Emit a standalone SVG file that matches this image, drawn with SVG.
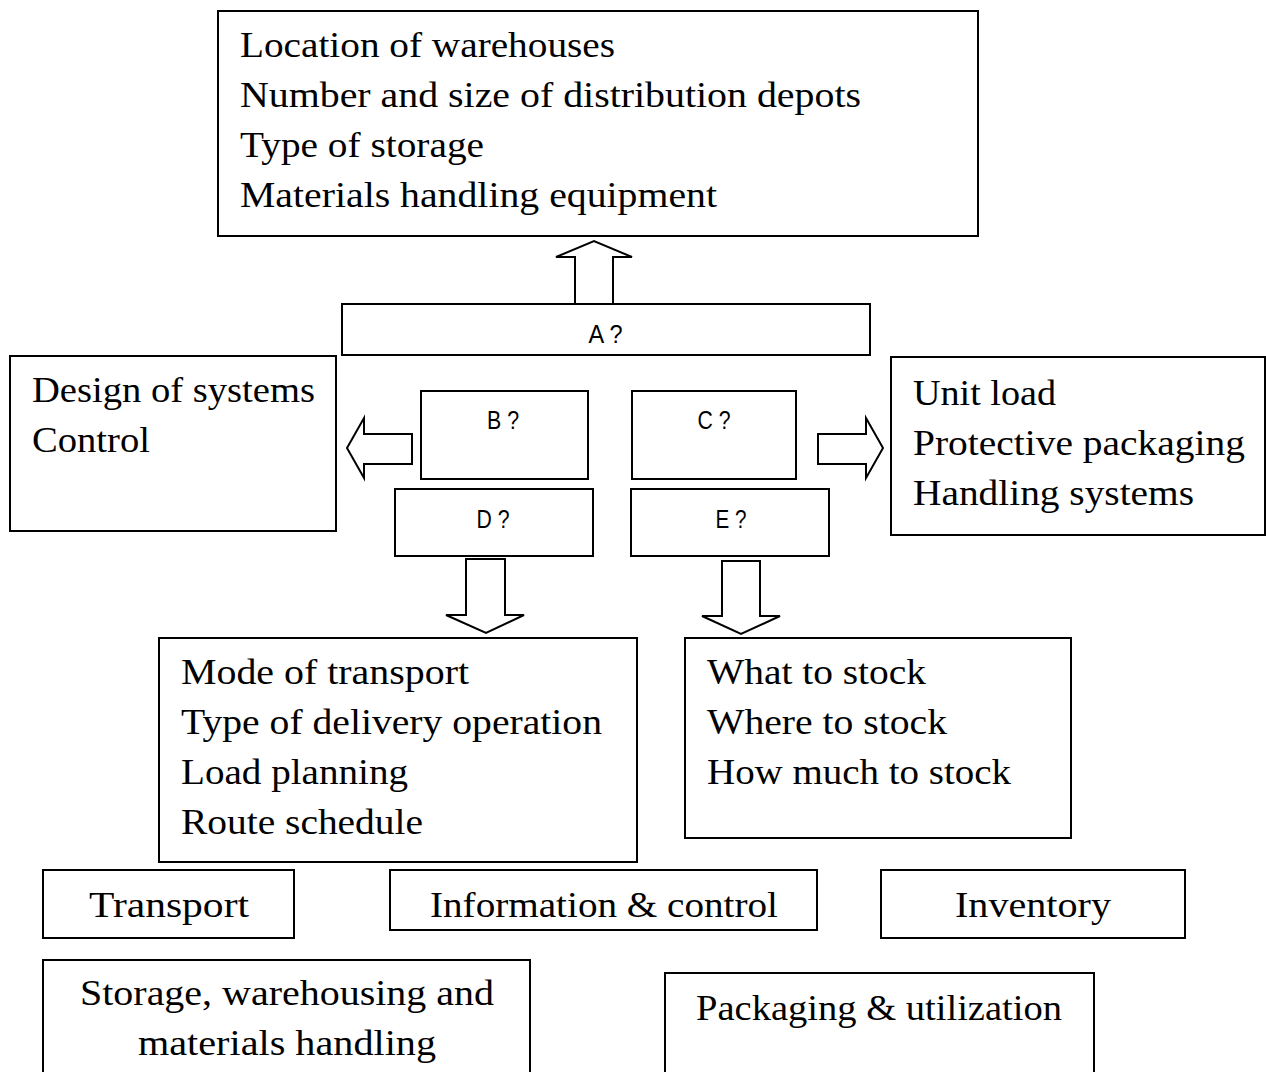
<svg xmlns="http://www.w3.org/2000/svg" width="1266" height="1072" viewBox="0 0 1266 1072">
<style>
.box{fill:#fff;stroke:#000;stroke-width:2}
.arr{fill:#fff;stroke:#000;stroke-width:2;stroke-linejoin:miter}
.t{font-family:"Liberation Serif","DejaVu Serif",serif;font-size:35px;fill:#000}
.m{text-anchor:middle}
.s{font-family:"Liberation Sans","Open Sans",sans-serif;font-size:26px;fill:#000;text-anchor:middle}
</style>
<rect width="1266" height="1072" fill="#fff"/>
<g id="warehouse">
<rect class="box" x="218" y="11" width="760" height="225"/>
<text class="t" x="240" y="57" textLength="375" lengthAdjust="spacingAndGlyphs">Location of warehouses</text>
<text class="t" x="240" y="107" textLength="621" lengthAdjust="spacingAndGlyphs">Number and size of distribution depots</text>
<text class="t" x="240" y="157" textLength="244" lengthAdjust="spacingAndGlyphs">Type of storage</text>
<text class="t" x="240" y="207" textLength="477" lengthAdjust="spacingAndGlyphs">Materials handling equipment</text>
</g>
<g id="A">
<rect class="box" x="342" y="304" width="528" height="51"/>
<text class="s" x="605.5" y="343" textLength="34" lengthAdjust="spacingAndGlyphs">A ?</text>
</g>
<g id="info">
<rect class="box" x="10" y="356" width="326" height="175"/>
<text class="t" x="32" y="402" textLength="283" lengthAdjust="spacingAndGlyphs">Design of systems</text>
<text class="t" x="32" y="452" textLength="118" lengthAdjust="spacingAndGlyphs">Control</text>
</g>
<g id="B">
<rect class="box" x="421" y="391" width="167" height="88"/>
<text class="s" x="503" y="428.5" textLength="32" lengthAdjust="spacingAndGlyphs">B ?</text>
</g>
<g id="C">
<rect class="box" x="632" y="391" width="164" height="88"/>
<text class="s" x="714" y="428.5" textLength="33" lengthAdjust="spacingAndGlyphs">C ?</text>
</g>
<g id="packaging">
<rect class="box" x="891" y="357" width="374" height="178"/>
<text class="t" x="913" y="405" textLength="143" lengthAdjust="spacingAndGlyphs">Unit load</text>
<text class="t" x="913" y="455" textLength="332" lengthAdjust="spacingAndGlyphs">Protective packaging</text>
<text class="t" x="913" y="505" textLength="281" lengthAdjust="spacingAndGlyphs">Handling systems</text>
</g>
<g id="D">
<rect class="box" x="395" y="489" width="198" height="67"/>
<text class="s" x="493" y="527.5" textLength="33" lengthAdjust="spacingAndGlyphs">D ?</text>
</g>
<g id="E">
<rect class="box" x="631" y="489" width="198" height="67"/>
<text class="s" x="731" y="527.5" textLength="31" lengthAdjust="spacingAndGlyphs">E ?</text>
</g>
<g id="transport">
<rect class="box" x="159" y="638" width="478" height="224"/>
<text class="t" x="181" y="684" textLength="288" lengthAdjust="spacingAndGlyphs">Mode of transport</text>
<text class="t" x="181" y="734" textLength="421" lengthAdjust="spacingAndGlyphs">Type of delivery operation</text>
<text class="t" x="181" y="784" textLength="227" lengthAdjust="spacingAndGlyphs">Load planning</text>
<text class="t" x="181" y="834" textLength="242" lengthAdjust="spacingAndGlyphs">Route schedule</text>
</g>
<g id="inventory">
<rect class="box" x="685" y="638" width="386" height="200"/>
<text class="t" x="707" y="684" textLength="219" lengthAdjust="spacingAndGlyphs">What to stock</text>
<text class="t" x="707" y="734" textLength="240" lengthAdjust="spacingAndGlyphs">Where to stock</text>
<text class="t" x="707" y="784" textLength="304" lengthAdjust="spacingAndGlyphs">How much to stock</text>
</g>
<g id="lbl-transport">
<rect class="box" x="43" y="870" width="251" height="68"/>
<text class="t m" x="169" y="917" textLength="160" lengthAdjust="spacingAndGlyphs">Transport</text>
</g>
<g id="lbl-info">
<rect class="box" x="390" y="870" width="427" height="60"/>
<text class="t m" x="604" y="917" textLength="348" lengthAdjust="spacingAndGlyphs">Information &amp; control</text>
</g>
<g id="lbl-inventory">
<rect class="box" x="881" y="870" width="304" height="68"/>
<text class="t m" x="1033" y="917" textLength="156" lengthAdjust="spacingAndGlyphs">Inventory</text>
</g>
<g id="lbl-storage">
<rect class="box" x="43" y="960" width="487" height="120"/>
<text class="t m" x="287" y="1005" textLength="414" lengthAdjust="spacingAndGlyphs">Storage, warehousing and</text>
<text class="t m" x="287" y="1055" textLength="298" lengthAdjust="spacingAndGlyphs">materials handling</text>
</g>
<g id="lbl-packaging">
<rect class="box" x="665" y="973" width="429" height="110"/>
<text class="t m" x="879" y="1020" textLength="366" lengthAdjust="spacingAndGlyphs">Packaging &amp; utilization</text>
</g>
<g id="connectors">
<polygon class="arr" points="575,304 575,257 556,257 594,241 632,257 613,257 613,304"/>
<polygon class="arr" points="412,434 364,434 364,418 347,448 364,478 364,464 412,464"/>
<polygon class="arr" points="818,434 866,434 866,418 883,448 866,478 866,464 818,464"/>
<polygon class="arr" points="466,559 505,559 505,615 524,615 486,633 446,615 466,615"/>
<polygon class="arr" points="722,561 760,561 760,616 780,616 741,634 702,616 722,616"/>
</g>
</svg>
